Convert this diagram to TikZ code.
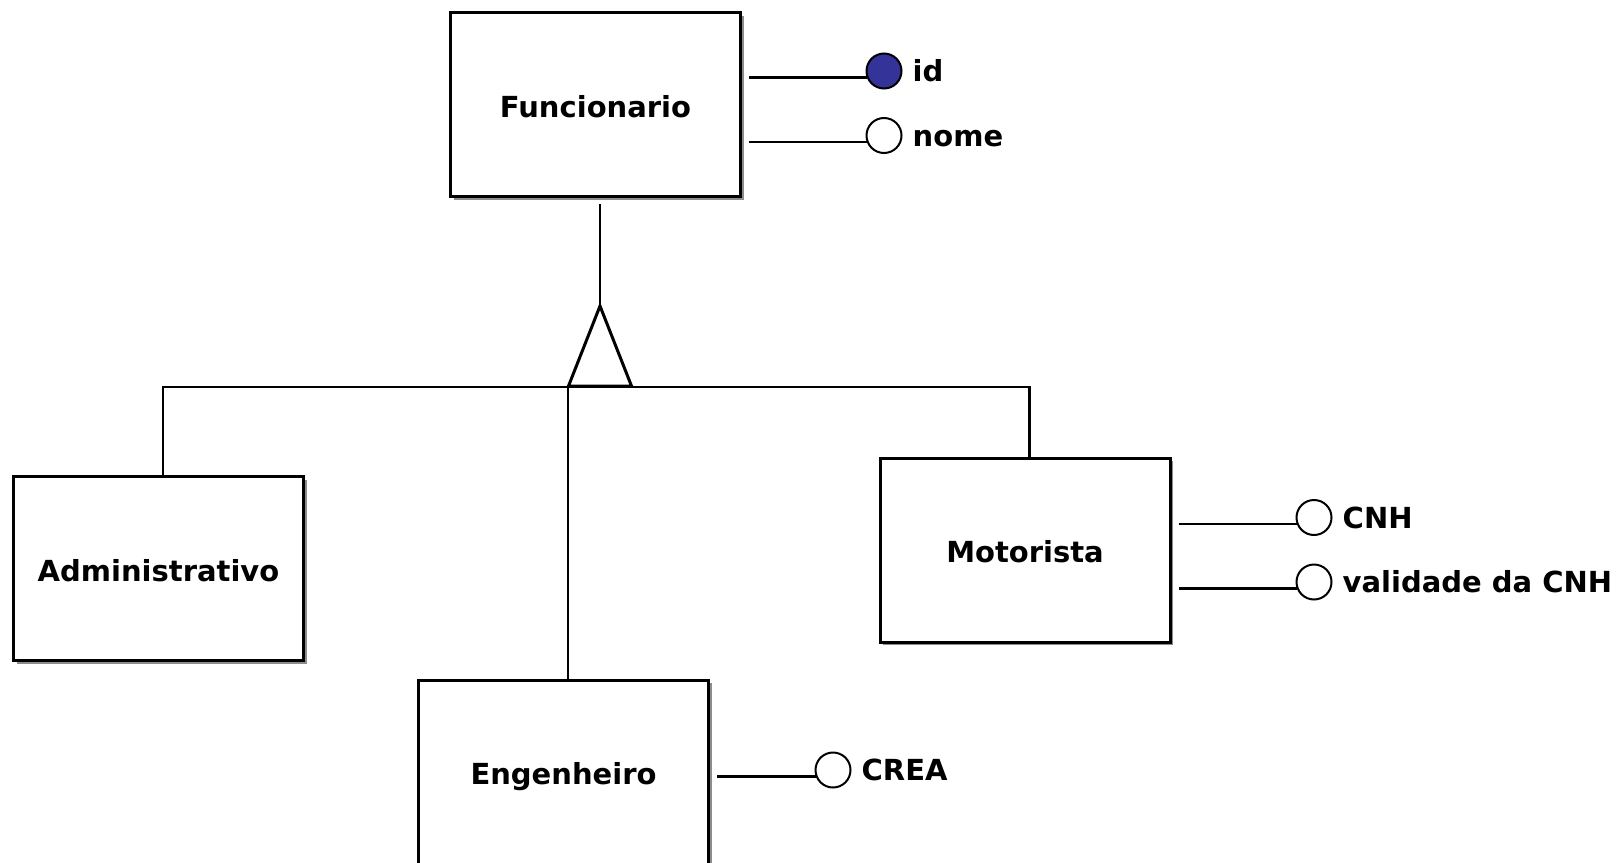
\documentclass[tikz,border=0pt]{standalone}
\usepackage{fontspec}
\setmainfont{DejaVu Sans}
\usetikzlibrary{shadows,positioning,calc}
\definecolor{keyfill}{RGB}{51,51,153}
\tikzset{
  entity/.style={draw=black, line width=3pt, fill=white, rectangle,
    minimum width=290pt, minimum height=184pt, inner sep=0pt,
    font=\bfseries\fontsize{29}{33}\selectfont,
    text height=25pt, text depth=0pt,
    drop shadow={shadow xshift=3pt, shadow yshift=-3pt, fill=black, opacity=0.45}},
  attr/.style={draw=black, line width=2pt, circle, fill=white,
    minimum size=35pt, inner sep=0pt},
  keyattr/.style={attr, fill=keyfill},
  attrlabel/.style={inner sep=0pt, font=\bfseries\fontsize{29}{33}\selectfont,
    text height=21pt, text depth=0pt},
  link/.style={draw=black, line width=2.5pt},
  gen/.style={draw=black, line width=3pt, line join=miter, fill=white}
}
\begin{document}
\begin{tikzpicture}[x=1pt, y=-1pt]
  \useasboundingbox (0,0) rectangle (1619,862);
  \fill[white] (0,0) rectangle (1619,862);
  \clip (0,0) rectangle (1619,862);

  % entity boxes
  \node[entity] (F) at (595.5,104.5) {Funcionario};
  \node[entity] (A) at (158.5,568.5) {Administrativo};
  \node[entity] (M) at (1025,550) {Motorista};
  \node[entity] (E) at (563.5,772) {Engenheiro};

  % attribute circles and their labels
  \node[keyattr] (idc) at (884,71) {};
  \node[attrlabel, right=10pt of idc] (idl) {id};
  \node[attr] (nomec) at (884,135.5) {};
  \node[attrlabel, right=10pt of nomec] (nomel) {nome};
  \node[attr] (cnhc) at (1314,517.5) {};
  \node[attrlabel, right=10pt of cnhc] (cnhl) {CNH};
  \node[attr] (valc) at (1314,582) {};
  \node[attrlabel, right=10pt of valc] (vall) {validade da CNH};
  \node[attr] (creac) at (833,770) {};
  \node[attrlabel, right=10pt of creac] (creal) {CREA};

  % attribute connectors
  \draw[link] ($(F.east |- idc.200)+(7,0)$) -- (idc.200);
  \draw[link] ($(F.east |- nomec.200)+(7,0)$) -- (nomec.200);
  \draw[link] ($(M.east |- cnhc.200)+(7,0)$) -- (cnhc.200);
  \draw[link] ($(M.east |- valc.200)+(7,0)$) -- (valc.200);
  \draw[link] ($(E.east |- creac.200)+(7,0)$) -- (creac.200);

  % generalization: superclass line, triangle and bar to subclasses
  \coordinate (apex) at (600,306);
  \coordinate (bar) at (600,387);
  \draw[link] ([xshift=4.5pt,yshift=-6pt]F.south) -- (apex);
  \draw[link] ([xshift=4.5pt]A.north) |- (bar) -| ([xshift=4.5pt]M.north);
  \draw[link] ([xshift=4.5pt]E.north) -- ([xshift=4.5pt]E.north |- bar);
  \draw[gen] (apex) -- ($(apex)+(31.5,80)$) -- ($(apex)+(-31.5,80)$) -- cycle;
\end{tikzpicture}
\end{document}
